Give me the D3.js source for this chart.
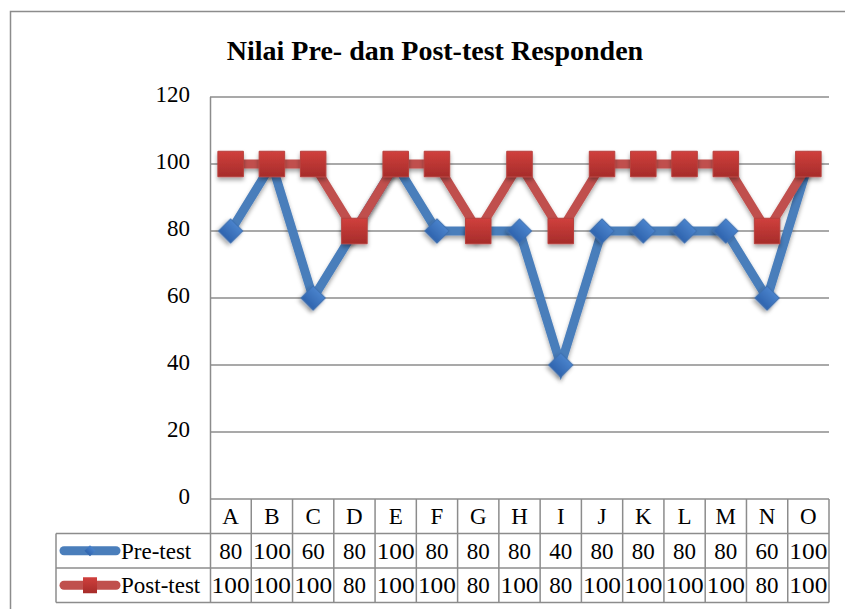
<!DOCTYPE html>
<html>
<head>
<meta charset="utf-8">
<script src="https://cdn.jsdelivr.net/npm/d3@7"></script>
<style>
  body { margin: 0; background: #fff; }
  text { font-family: "Liberation Serif", "Times New Roman", serif; fill: #000; }
</style>
</head>
<body>
<div id="chart-area"></div>
<script>
var categories = ["A", "B", "C", "D", "E", "F", "G", "H", "I", "J", "K", "L", "M", "N", "O"];
var preTest = [80, 100, 60, 80, 100, 80, 80, 80, 40, 80, 80, 80, 80, 60, 100];
var postTest = [100, 100, 100, 80, 100, 100, 80, 100, 80, 100, 100, 100, 100, 80, 100];
var yTicks = [0, 20, 40, 60, 80, 100, 120];
var seriesNames = ["Pre-test", "Post-test"];

var W = 845, H = 609;
var plotLeft = 210, plotRight = 829, plotTop = 97, plotBottom = 499;
var rowH = 34.5;
var tableLeft = 56;

var svg = d3.select("#chart-area").append("svg")
    .attr("width", W)
    .attr("height", H);

var defs = svg.append("defs");
var f = defs.append("filter").attr("id", "shadow")
    .attr("x", "-50%").attr("y", "-50%").attr("width", "200%").attr("height", "200%");
f.append("feDropShadow").attr("dx", 0).attr("dy", 3).attr("stdDeviation", 2)
    .attr("flood-color", "#000").attr("flood-opacity", 0.35);

var gBlue = defs.append("linearGradient").attr("id", "gBlue")
    .attr("x1", 0).attr("y1", 0).attr("x2", 0).attr("y2", 1);
gBlue.append("stop").attr("offset", "0%").attr("stop-color", "#4a83cc");
gBlue.append("stop").attr("offset", "100%").attr("stop-color", "#2f64ae");
var gRed = defs.append("linearGradient").attr("id", "gRed")
    .attr("x1", 0).attr("y1", 0).attr("x2", 0).attr("y2", 1);
gRed.append("stop").attr("offset", "0%").attr("stop-color", "#d0403d");
gRed.append("stop").attr("offset", "100%").attr("stop-color", "#a62c2a");

// outer chart frame
svg.append("rect")
    .attr("x", 10.5).attr("y", 11.5)
    .attr("width", W + 20).attr("height", H + 20)
    .attr("fill", "none").attr("stroke", "#8c8c8c").attr("stroke-width", 1.5);

svg.append("text")
    .attr("x", 435).attr("y", 60)
    .attr("text-anchor", "middle")
    .attr("font-size", "28px")
    .attr("font-weight", "bold")
    .text("Nilai Pre- dan Post-test Responden");

var x = d3.scaleBand().domain(categories).range([plotLeft, plotRight]);
var y = d3.scaleLinear().domain([0, 120]).range([plotBottom, plotTop]);

// gridlines
svg.append("g").selectAll("line").data(yTicks).enter().append("line")
    .attr("x1", plotLeft).attr("x2", plotRight)
    .attr("y1", function(d) { return y(d); })
    .attr("y2", function(d) { return y(d); })
    .attr("stroke", "#8c8c8c").attr("stroke-width", 1.5);

// y axis
var yAxis = d3.axisLeft(y).tickValues(yTicks).tickSize(0).tickPadding(0);
var yAxisGroup = svg.append("g")
    .attr("transform", "translate(" + (plotLeft - 20) + ",0)")
    .call(yAxis);
yAxisGroup.select(".domain").remove();
yAxisGroup.selectAll("text")
    .attr("font-size", "23px")
    .attr("font-family", "Liberation Serif, serif")
    .attr("dy", "0.2em");

var tableBottom = plotBottom + rowH * 3;
svg.append("line")
    .attr("x1", plotLeft + 0.5).attr("x2", plotLeft + 0.5)
    .attr("y1", plotTop).attr("y2", tableBottom)
    .attr("stroke", "#8c8c8c").attr("stroke-width", 1.5);

// data table
var table = svg.append("g");
[1, 2, 3].forEach(function(k) {
    table.append("line").attr("x1", tableLeft).attr("x2", plotRight)
        .attr("y1", plotBottom + rowH * k).attr("y2", plotBottom + rowH * k);
});
table.append("line").attr("x1", tableLeft).attr("x2", tableLeft)
    .attr("y1", plotBottom + rowH).attr("y2", tableBottom);
table.selectAll(".sep").data(categories).enter().append("line")
    .attr("class", "sep")
    .attr("x1", function(d) { return x(d) + x.bandwidth(); })
    .attr("x2", function(d) { return x(d) + x.bandwidth(); })
    .attr("y1", plotBottom).attr("y2", tableBottom);
table.selectAll("line").attr("stroke", "#8c8c8c").attr("stroke-width", 1.5);

table.selectAll(".cat").data(categories).enter().append("text")
    .attr("x", function(d) { return x(d) + x.bandwidth() / 2; })
    .attr("y", plotBottom + rowH / 2 + 8)
    .attr("text-anchor", "middle")
    .attr("font-size", "23px")
    .text(function(d) { return d; });

[preTest, postTest].forEach(function(vals, r) {
    table.selectAll(".v" + r).data(vals).enter().append("text")
        .attr("x", function(d, i) { return x(categories[i]) + x.bandwidth() / 2; })
        .attr("y", plotBottom + rowH * (r + 1) + rowH / 2 + 8)
        .attr("text-anchor", "middle")
        .attr("font-size", "23px")
        .attr("textLength", function(d) { return d >= 100 ? 38 : null; })
        .attr("lengthAdjust", "spacingAndGlyphs")
        .text(function(d) { return d; });
});

var colors = ["#4a7ebb", "#c0504d"];

// legend keys
seriesNames.forEach(function(name, r) {
    var cy = plotBottom + rowH * (r + 1) + rowH / 2;
    table.append("line")
        .attr("x1", 64).attr("x2", 116)
        .attr("y1", cy).attr("y2", cy)
        .attr("stroke", colors[r]).attr("stroke-width", 9)
        .attr("stroke-linecap", "round");
    if (r === 0) {
        table.append("path")
            .attr("d", d3.symbol().type(d3.symbolSquare).size(60)())
            .attr("transform", "translate(90," + cy + ") rotate(45)")
            .attr("fill", "url(#gBlue)");
    } else {
        table.append("rect")
            .attr("x", 83).attr("y", cy - 8).attr("width", 14).attr("height", 16)
            .attr("fill", "url(#gRed)");
    }
    table.append("text")
        .attr("x", 121).attr("y", cy + 8)
        .attr("font-size", "23px")
        .text(name);
});

// series lines
var line = d3.line()
    .x(function(d, i) { return x(categories[i]) + x.bandwidth() / 2; })
    .y(function(d) { return y(d); });

function drawSeries(vals, color, kind) {
    var g = svg.append("g");
    g.append("path")
        .datum(vals)
        .attr("d", line)
        .attr("fill", "none")
        .attr("stroke", color)
        .attr("stroke-width", 9)
        .attr("stroke-linejoin", "miter")
        .attr("filter", "url(#shadow)");
    var sym = kind === "diamond"
        ? d3.symbol().type(d3.symbolSquare).size(300)()
        : d3.symbol().type(d3.symbolSquare).size(650)();
    g.selectAll(".m").data(vals).enter().append("path")
        .attr("d", sym)
        .attr("transform", function(d, i) {
            var t = "translate(" + (x(categories[i]) + x.bandwidth() / 2) + "," + y(d) + ")";
            return kind === "diamond" ? t + " rotate(45)" : t;
        })
        .attr("fill", kind === "diamond" ? "url(#gBlue)" : "url(#gRed)")
        .attr("stroke", kind === "diamond" ? "#3d6fb0" : "#b8403d")
        .attr("stroke-width", 1)
        .attr("filter", "url(#shadow)");
}

drawSeries(preTest, colors[0], "diamond");
drawSeries(postTest, colors[1], "square");
</script>
</body>
</html>
